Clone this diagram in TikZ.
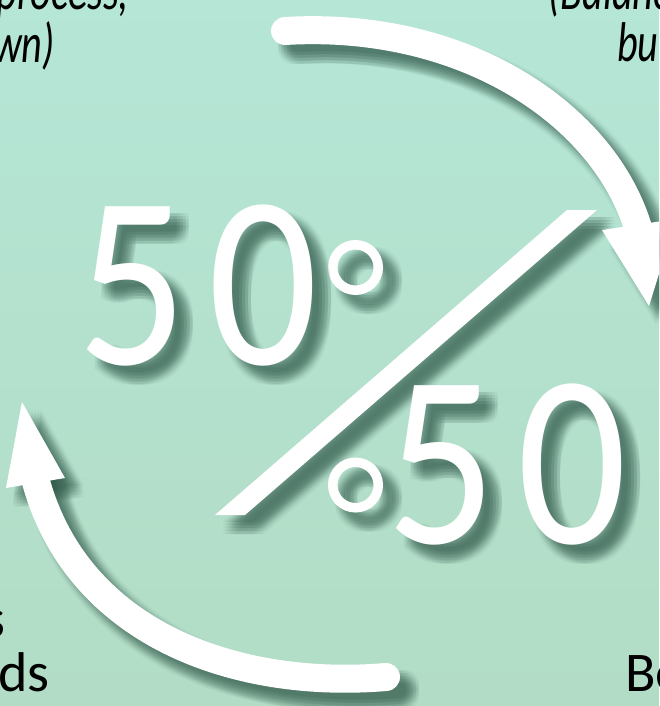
\documentclass[tikz,border=0pt]{standalone}
\usepackage{fontspec}
\setmainfont{Carlito}
\newfontfamily\digitfont[LetterSpace=10]{Carlito}
\usetikzlibrary{calc}
\definecolor{bgtop}{RGB}{181,230,214}
\definecolor{bgbot}{RGB}{178,220,197}
\definecolor{shc}{RGB}{55,95,80}
% shadowed big digits, condensed
\newcommand\bigdigits[2]{%
  \begin{scope}[shift={(#1)}, xscale=0.88]
    \foreach \dx in {-6,-3,0,3,6}{\foreach \dy in {-6,-3,0,3,6}{%
      \node[digit, text=shc, text opacity=0.05, anchor=base west, transform shape] at (\dx/0.88+13/0.88,\dy+13) {50};}}
    \node[digit, text=white, anchor=base west, transform shape] (#2) at (0,0) {50};
  \end{scope}}
% condensed italic label
\newcommand\itlabel[4]{%
  \begin{scope}[shift={(#1)}, xscale=0.72]
    \node[lbl, font=\fontsize{56}{56}\selectfont\itshape, anchor=#2, transform shape] (#3) at (0,0) {#4};
  \end{scope}}
\begin{document}
\begin{tikzpicture}[x=1pt,y=-1pt,
  lbl/.style={inner sep=0pt, text=black, font=\fontsize{56}{56}\selectfont},
  digit/.style={inner sep=0pt, font=\digitfont\fontsize{246}{246}\selectfont},
  shaft/.style={white, line width=28pt, line cap=round},
  shshaft/.style={draw=shc, draw opacity=0.05, line cap=round},
  shpoly/.style={fill=shc, fill opacity=0.05}]
\useasboundingbox (0,0) rectangle (659,706);
\clip (0,0) rectangle (659,706);
\shade[top color=bgtop, bottom color=bgbot] (0,0) rectangle (659,706);

% geometry
\coordinate (ta) at (285,31);
\coordinate (tc1) at (470,20);
\coordinate (tc2) at (610,120);
\coordinate (tb) at (640,235);
\coordinate (thl) at (602,230);
\coordinate (tht) at (649,306);
\coordinate (thr) at (676,219);
\coordinate (ba) at (386,677);
\coordinate (bc1) at (230,690);
\coordinate (bc2) at (70,630);
\coordinate (bb) at (33,470);
\coordinate (bhl) at (6,488);
\coordinate (bht) at (22,402);
\coordinate (bhr) at (65,478);
\coordinate (s1) at (215,515);
\coordinate (s2) at (245,515);
\coordinate (s3) at (597,210);
\coordinate (s4) at (567,210);
\coordinate (c1) at (355.5,267.5);
\coordinate (c2) at (355.5,485);
\coordinate (u50) at (77,364);
\coordinate (l50) at (386,543);

% shadows: many faint offset copies give a soft edge
\foreach \ddx in {-6,-3,0,3,6}{\foreach \ddy in {-6,-3,0,3,6}{
  \pgfmathsetmacro\shx{13+\ddx}\pgfmathsetmacro\shy{13+\ddy}
  \path[shshaft, line width=28pt] ([shift={(\shx,\shy)}]ta) .. controls ([shift={(\shx,\shy)}]tc1) and ([shift={(\shx,\shy)}]tc2) .. ([shift={(\shx,\shy)}]tb);
  \path[shshaft, line width=28pt] ([shift={(\shx,\shy)}]ba) .. controls ([shift={(\shx,\shy)}]bc1) and ([shift={(\shx,\shy)}]bc2) .. ([shift={(\shx,\shy)}]bb);
  \path[shpoly] ([shift={(\shx,\shy)}]thl) -- ([shift={(\shx,\shy)}]tht) -- ([shift={(\shx,\shy)}]thr) -- cycle;
  \path[shpoly] ([shift={(\shx,\shy)}]bhl) -- ([shift={(\shx,\shy)}]bht) -- ([shift={(\shx,\shy)}]bhr) -- cycle;
  \path[shpoly] ([shift={(\shx,\shy)}]s1) -- ([shift={(\shx,\shy)}]s2) -- ([shift={(\shx,\shy)}]s3) -- ([shift={(\shx,\shy)}]s4) -- cycle;
  \path[shshaft, line width=9.5pt] ([shift={(\shx,\shy)}]c1) circle[radius=22.75];
  \path[shshaft, line width=9.5pt] ([shift={(\shx,\shy)}]c2) circle[radius=22.75];
}}

% white shapes
\draw[shaft] (ta) .. controls (tc1) and (tc2) .. (tb);
\fill[white] (thl) -- (tht) -- (thr) -- cycle;
\draw[shaft] (ba) .. controls (bc1) and (bc2) .. (bb);
\fill[white] (bhl) -- (bht) -- (bhr) -- cycle;
\fill[white] (s1) -- (s2) -- (s3) -- (s4) -- cycle;
\draw[white, line width=9.5pt] (c1) circle[radius=22.75];
\draw[white, line width=9.5pt] (c2) circle[radius=22.75];
\bigdigits{u50}{upper}
\bigdigits{l50}{lower}

% corner texts
\itlabel{129,10}{base east}{tl1}{process,}
\itlabel{55,63}{base east}{tl2}{wn)}
\itlabel{548,10}{base west}{tr1}{(Balanc}
\itlabel{617,62}{base west}{tr2}{bu}
\node[lbl, anchor=base east] (bl1) at (6,637) {s};
\node[lbl, anchor=base east] (bl2) at (50,691) {ds};
\node[lbl, anchor=base west] (br) at (625,691) {Be};
\end{tikzpicture}
\end{document}
